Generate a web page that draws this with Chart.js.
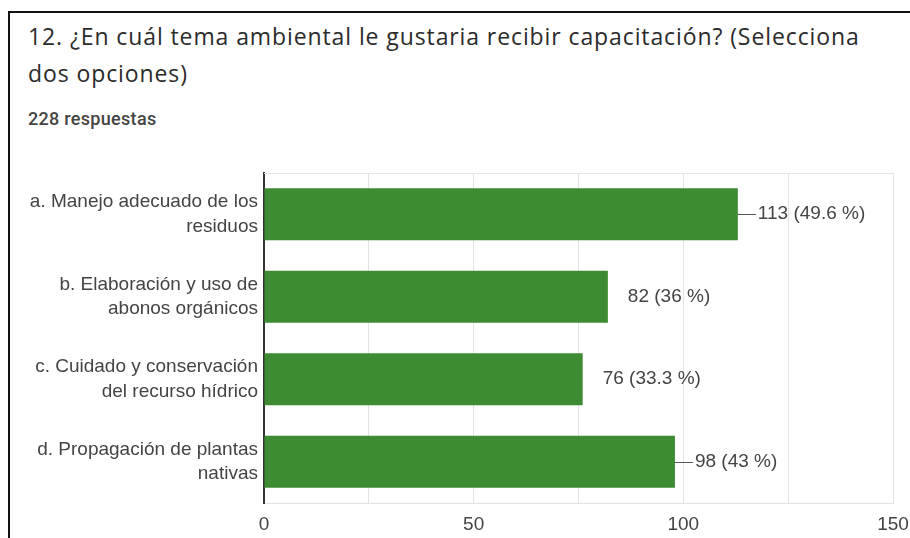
<!DOCTYPE html>
<html lang="es">
<head>
<meta charset="utf-8">
<title>Capacitación ambiental</title>
<script src="https://cdn.jsdelivr.net/npm/chart.js@4"></script>
<style>
  html, body { margin: 0; padding: 0; background: #fff; }
  #page { position: relative; width: 910px; height: 538px; overflow: hidden; }
  #frame {
    position: absolute; left: 8px; top: 11px; right: -4px; bottom: -4px;
    border-left: 2px solid #111; border-top: 2px solid #111;
  }
  #title {
    position: absolute; left: 28px; top: 18px; width: 850px;
    font-family: 'Open Sans', sans-serif; font-size: 23px; letter-spacing: 0.9px;
    line-height: 37px; color: #2b2b2b;
  }
  #count {
    position: absolute; left: 28px; top: 108px;
    font-family: Roboto, sans-serif; font-weight: 500; font-size: 18px;
    letter-spacing: 0.3px; color: #444;
  }
  #wrap { position: absolute; left: 0; top: 150px; width: 910px; height: 388px; }
</style>
</head>
<body>
<div id="page">
  <div id="frame"></div>
  <div id="title">12. ¿En cuál tema ambiental le gustaria recibir capacitación? (Selecciona dos opciones)</div>
  <div id="count">228 respuestas</div>
  <div id="wrap"><canvas id="chart"></canvas></div>
</div>
<script>
// answers to question 12
const totalResponses = 228;
const topics = [
  ['a. Manejo adecuado de los', 'residuos'],
  ['b. Elaboración y uso de', 'abonos orgánicos'],
  ['c. Cuidado y conservación', 'del recurso hídrico'],
  ['d. Propagación de plantas', 'nativas']
];
const counts = [113, 82, 76, 98];
const axisTicks = [0, 50, 100, 150];

const labelFont = "Arial, 'Liberation Sans', sans-serif";

// light box around the plot (top edge; the others come from the grid)
const plotBox = {
  id: 'plotBox',
  beforeDatasetsDraw(chart) {
    const { ctx, chartArea: a } = chart;
    ctx.save();
    ctx.strokeStyle = '#e3e3e3';
    ctx.lineWidth = 1;
    ctx.beginPath();
    ctx.moveTo(a.left, a.top + 0.5);
    ctx.lineTo(a.right, a.top + 0.5);
    ctx.stroke();
    ctx.restore();
  }
};

// "113 (49.6 %)" style labels to the right of each bar
const valueLabels = {
  id: 'valueLabels',
  afterDatasetsDraw(chart) {
    const { ctx } = chart;
    const meta = chart.getDatasetMeta(0);
    const withLine = [true, false, false, true];
    ctx.save();
    ctx.font = '19px ' + labelFont;
    ctx.fillStyle = '#444';
    ctx.strokeStyle = '#555';
    ctx.lineWidth = 1;
    ctx.textBaseline = 'middle';
    meta.data.forEach((bar, i) => {
      const v = counts[i];
      const pct = Math.round(v / totalResponses * 1000) / 10;
      if (withLine[i]) {
        ctx.beginPath();
        ctx.moveTo(bar.x, Math.round(bar.y) + 0.5);
        ctx.lineTo(bar.x + 18, Math.round(bar.y) + 0.5);
        ctx.stroke();
      }
      ctx.fillText(v + ' (' + pct + ' %)', bar.x + 20, bar.y);
    });
    ctx.restore();
  }
};

new Chart(document.getElementById('chart'), {
  type: 'bar',
  data: {
    labels: topics,
    datasets: [{
      data: counts,
      backgroundColor: '#3d8b32',
      borderWidth: 0,
      barPercentage: 0.63,
      categoryPercentage: 1
    }]
  },
  options: {
    indexAxis: 'y',
    responsive: true,
    maintainAspectRatio: false,
    animation: false,
    layout: { padding: { top: 23, right: 17, bottom: 0, left: 0 } },
    plugins: { legend: { display: false }, tooltip: { enabled: false } },
    scales: {
      x: {
        min: 0,
        max: 150,
        afterFit(scale) {
          scale.height = 35;
          scale.paddingLeft = 0;
          scale.paddingRight = 0;
        },
        afterBuildTicks(scale) {
          scale.ticks = [0, 25, 50, 75, 100, 125, 150].map(v => ({ value: v }));
        },
        ticks: {
          padding: 10,
          color: '#444',
          maxRotation: 0,
          font: { family: labelFont, size: 19 },
          callback: v => axisTicks.includes(v) ? String(v) : ''
        },
        grid: { color: '#e3e3e3', drawTicks: false },
        border: { color: '#e3e3e3' }
      },
      y: {
        afterFit(scale) {
          scale.width = 264;
          scale.paddingTop = 0;
          scale.paddingBottom = 0;
        },
        ticks: {
          padding: 6,
          color: '#444',
          font: { family: labelFont, size: 19, lineHeight: 1.3 }
        },
        grid: { display: false, drawTicks: false },
        border: { color: '#333', width: 2 }
      }
    }
  },
  plugins: [plotBox, valueLabels]
});
</script>
</body>
</html>
